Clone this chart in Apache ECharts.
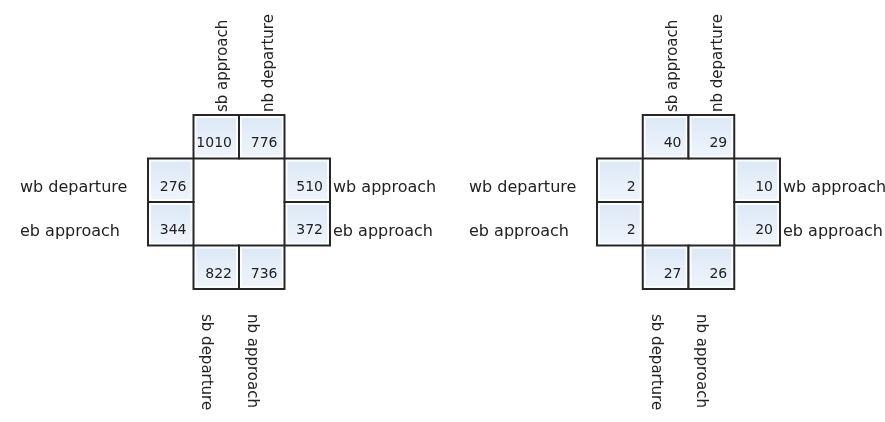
<!DOCTYPE html>
<html>
<head>
<meta charset="utf-8">
<script src="https://cdn.jsdelivr.net/npm/echarts@6/dist/echarts.min.js"></script>
<style>
  html, body { margin: 0; padding: 0; background: #fff; }
  #chart { width: 885px; height: 422px; }
</style>
</head>
<body>
<div id="chart"></div>
<script>
// cell positions on a 4x4 board: [column, row]
const cellCols = [1, 2, 0, 0, 3, 3, 1, 2];
const cellRows = [0, 0, 1, 2, 1, 2, 3, 3];
const cellNames = ['sb approach', 'nb departure', 'wb departure', 'eb approach',
                   'wb approach', 'eb approach', 'sb departure', 'nb approach'];
const countsLeft = [1010, 776, 276, 344, 510, 372, 822, 736];
const countsRight = [40, 29, 2, 2, 10, 20, 27, 26];

const FONT = '"DejaVu Sans", sans-serif';
const chart = echarts.init(document.getElementById('chart'), null, { renderer: 'canvas' });

function buildData(counts) {
    return counts.map((v, i) => [cellCols[i], cellRows[i], v]);
}

function renderCell(params, api) {
    const c = api.value(0), r = api.value(1), v = api.value(2);
    const p0 = api.coord([c, r]);
    const p1 = api.coord([c + 1, r + 1]);
    const x = p0[0], y = p0[1], w = p1[0] - p0[0], h = p1[1] - p0[1];
    const name = cellNames[params.dataIndex];
    const children = [{
        type: 'rect',
        shape: { x, y, width: w, height: h },
        style: { fill: '#fbfdff', stroke: '#262626', lineWidth: 2 },
    }, {
        type: 'rect',
        shape: { x: x + 3, y: y + 3, width: w - 6, height: h - 6 },
        style: {
            fill: new echarts.graphic.LinearGradient(0, 0, 0, 1, [
                { offset: 0, color: '#dde9f7' },
                { offset: 1, color: '#eef4fb' },
            ]),
        },
    }, {
        type: 'text',
        x: x + w - 7,
        y: y + h - 15,
        style: { text: String(v), align: 'right', verticalAlign: 'middle', font: '14px ' + FONT, fill: '#222' },
    }];

    // direction label next to the cell
    let lab;
    if (r === 0) {
        lab = { x: x + w / 2 + 7, y: y - 3, rotation: Math.PI / 2, font: '15px ' + FONT };
    } else if (r === 3) {
        lab = { x: x + w / 2 - 10, y: y + h + 25, rotation: -Math.PI / 2, font: '15px ' + FONT };
    } else if (c === 0) {
        lab = { x: x - 128, y: y + h - 14, rotation: 0, font: '16px ' + FONT };
    } else {
        lab = { x: x + w + 3, y: y + h - 14, rotation: 0, font: '16px ' + FONT };
    }
    children.push({
        type: 'text',
        x: lab.x,
        y: lab.y,
        rotation: lab.rotation,
        style: { text: name, align: 'left', verticalAlign: 'middle', font: lab.font, fill: '#222' },
    });
    return { type: 'group', children };
}

const axisX = gi => ({ gridIndex: gi, type: 'value', min: 0, max: 4, show: false });
const axisY = gi => ({ gridIndex: gi, type: 'value', min: 0, max: 4, inverse: true, show: false });

chart.setOption({
    animation: false,
    grid: [
        { left: 148, top: 115, width: 182, height: 174 },
        { left: 597, top: 115, width: 183, height: 174 },
    ],
    xAxis: [axisX(0), axisX(1)],
    yAxis: [axisY(0), axisY(1)],
    series: [
        { type: 'custom', xAxisIndex: 0, yAxisIndex: 0, renderItem: renderCell, data: buildData(countsLeft), clip: false },
        { type: 'custom', xAxisIndex: 1, yAxisIndex: 1, renderItem: renderCell, data: buildData(countsRight), clip: false },
    ],
});

window.addEventListener('resize', () => chart.resize());
</script>
</body>
</html>
